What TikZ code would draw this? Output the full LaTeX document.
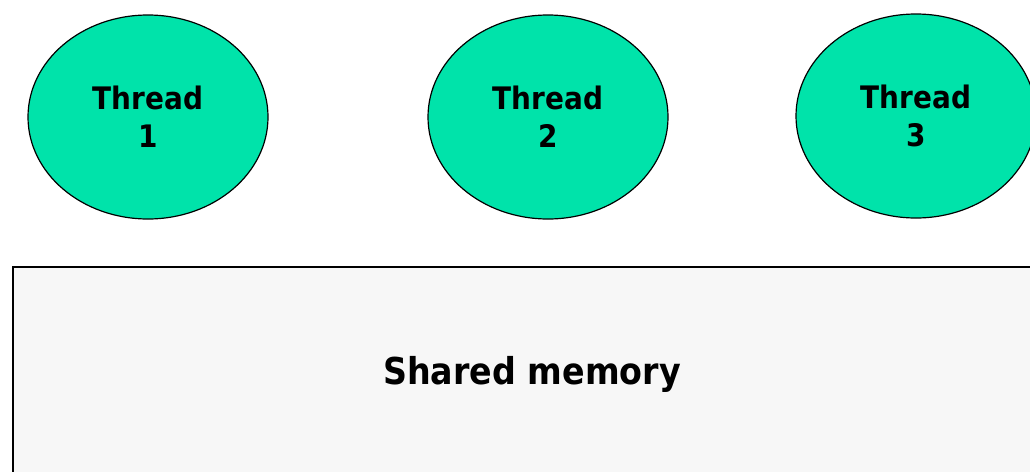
\documentclass[tikz,border=0pt]{standalone}
\usepackage{fontspec}
\setmainfont{DejaVu Sans Condensed}
\usetikzlibrary{shapes.geometric}
\definecolor{threadgreen}{RGB}{0,227,170}
\definecolor{memgray}{RGB}{247,247,247}
\tikzset{
  thread/.style={ellipse, draw=black, line width=1.2pt, fill=threadgreen,
    minimum width=240pt, minimum height=204pt, inner sep=0pt,
    align=center, font=\bfseries\fontsize{31}{38}\selectfont},
  membox/.style={draw=black, line width=2pt, fill=memgray},
  memlabel/.style={font=\bfseries\fontsize{37}{44}\selectfont}
}
\begin{document}
\begin{tikzpicture}[x=1pt,y=-1pt]
\useasboundingbox (0,0) rectangle (1030,471);
\clip (0,0) rectangle (1030,471);
\node[thread] (t1) at (148,117) {Thread\\1};
\node[thread] (t2) at (548,117) {Thread\\2};
\node[thread] (t3) at (916,116) {Thread\\3};
\draw[membox] (13,267) rectangle (1045,485);
\node[memlabel] (mem) at (532,374) {Shared memory};
\end{tikzpicture}
\end{document}
